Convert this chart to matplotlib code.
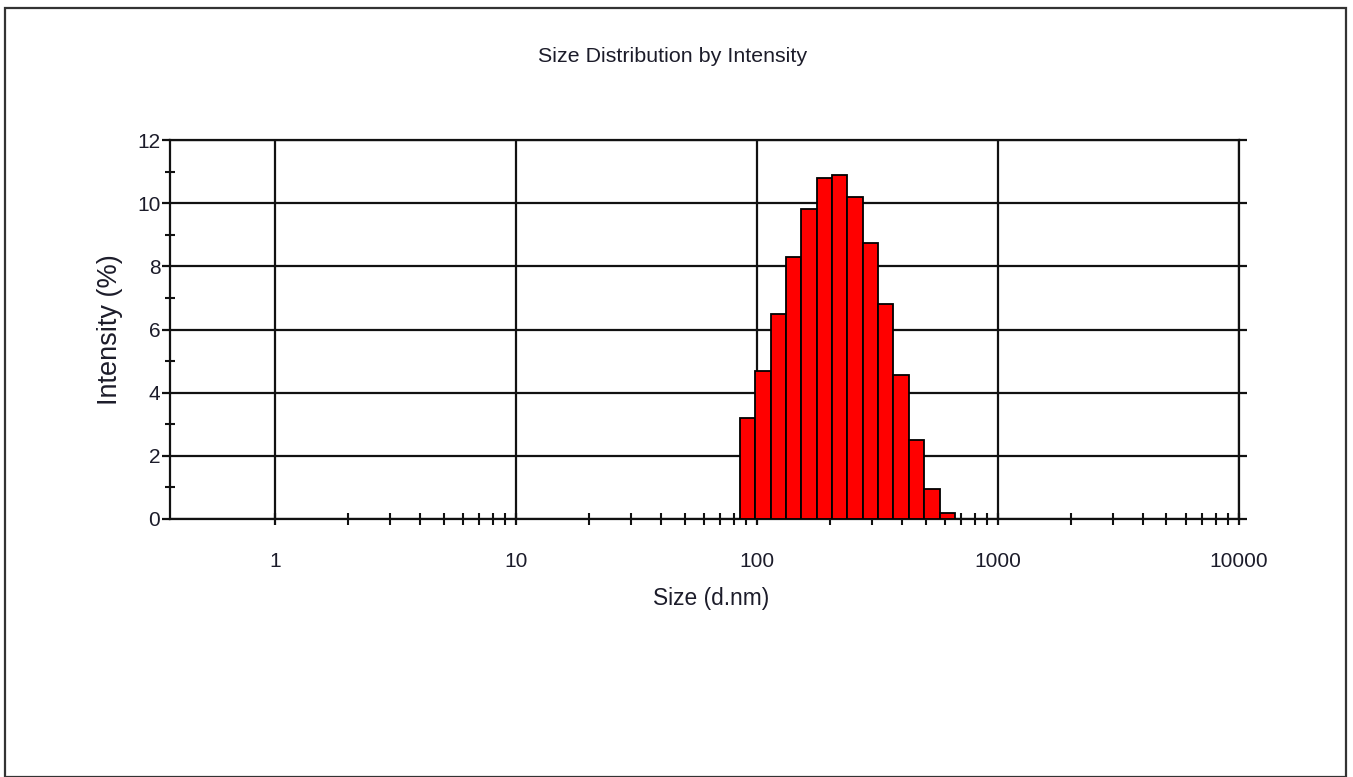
import numpy as np
import matplotlib
matplotlib.use("Agg")
import matplotlib.pyplot as plt
from matplotlib.patches import Rectangle
from matplotlib.ticker import FixedLocator, NullFormatter

plt.rcParams['font.family'] = ['Liberation Sans', 'DejaVu Sans']

# Bin centres (d.nm) and intensity (%)
sizes = [91.28, 105.7, 122.4, 141.8, 164.2, 190.1, 220.2, 255.0, 295.3,
         342.0, 396.1, 458.7, 531.2, 615.1]
intensity = [3.2, 4.7, 6.5, 8.3, 9.8, 10.8, 10.9, 10.2, 8.75,
             6.8, 4.55, 2.5, 0.95, 0.2]

title = "Size Distribution by Intensity"
xlabel = "Size (d.nm)"
ylabel = "Intensity (%)"
xticks = [1, 10, 100, 1000, 10000]
xticklabels = ["1", "10", "100", "1000", "10000"]
yticks = [0, 2, 4, 6, 8, 10, 12]

W, H = 1353, 777
fig = plt.figure(figsize=(W / 100, H / 100), dpi=100)
fig.patches.append(Rectangle((5 / W, 0.0), (1346 - 5) / W, 1 - 8 / H,
                             transform=fig.transFigure, fill=False,
                             edgecolor='#333333', linewidth=1.6))

ax = fig.add_axes([170 / W, 1 - 519 / H, (1239 - 170) / W, (519 - 140) / H])
ax.set_xscale('log')

# bar edges: geometric midpoints between bin centres
s = np.array(sizes)
log_s = np.log10(s)
step = np.diff(log_s).mean()
edges = 10 ** np.concatenate([[log_s[0] - step / 2],
                              (log_s[:-1] + log_s[1:]) / 2,
                              [log_s[-1] + step / 2]])
ax.bar(edges[:-1], intensity, width=np.diff(edges), align='edge',
       color='#ff0000', edgecolor='black', linewidth=1.3, zorder=3)

ax.set_xlim(0.366, 10000)
ax.set_ylim(0, 12)

ax.set_xticks(xticks)
ax.set_xticklabels(xticklabels)
ax.xaxis.set_minor_locator(FixedLocator(
    [m * 10 ** e for e in range(0, 4) for m in range(2, 10)]))
ax.xaxis.set_minor_formatter(NullFormatter())
ax.set_yticks(yticks)
ax.yaxis.set_minor_locator(FixedLocator([1, 3, 5, 7, 9, 11]))

ax.grid(True, which='major', color='#111111', linewidth=1.6, zorder=1)
ax.set_axisbelow(True)

for sp in ax.spines.values():
    sp.set_linewidth(1.6)
    sp.set_color('#111111')

tc = '#1c1c2a'
ax.tick_params(axis='x', which='major', direction='inout', length=9, width=1.6,
               pad=19, labelsize=15, colors='#111111')
ax.tick_params(axis='x', which='major', labelcolor=tc)
ax.tick_params(axis='x', which='minor', direction='inout', length=9, width=1.5,
               colors='#111111')
ax.tick_params(axis='y', which='major', direction='out', length=6, width=1.6,
               pad=1, labelsize=15, left=True, right=True, colors='#111111')
ax.tick_params(axis='y', which='major', labelcolor=tc)
ax.tick_params(axis='y', which='minor', direction='inout', length=7, width=1.5,
               colors='#111111')

fig.text(673 / W, 1 - 56 / H, title, ha='center', va='center', fontsize=15.4, color=tc)
fig.text(711 / W, 1 - 599 / H, xlabel, ha='center', va='center', fontsize=16.4, color=tc)
fig.text(110 / W, 1 - 330 / H, ylabel, ha='center', va='center', fontsize=19.5,
         rotation=90, color=tc)

fig.savefig('out.png', dpi=100)
